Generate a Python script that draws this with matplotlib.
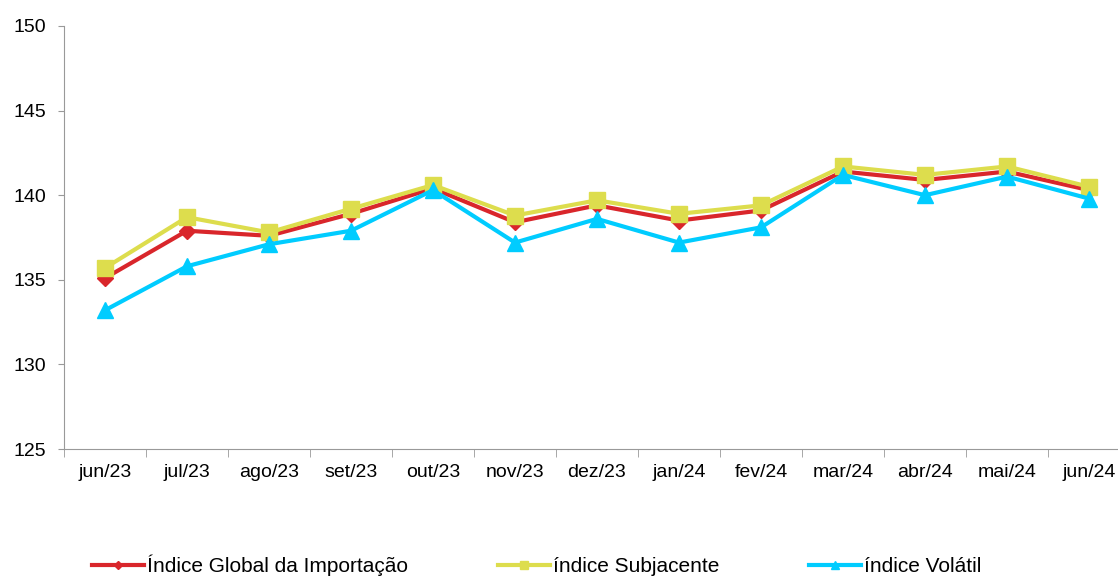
import matplotlib.pyplot as plt
import numpy as np

plt.rcParams['font.family'] = ['Liberation Sans', 'DejaVu Sans']

meses = ['jun/23', 'jul/23', 'ago/23', 'set/23', 'out/23', 'nov/23', 'dez/23',
         'jan/24', 'fev/24', 'mar/24', 'abr/24', 'mai/24', 'jun/24']
global_imp = [135.1, 137.9, 137.6, 138.9, 140.4, 138.4, 139.4, 138.5, 139.1, 141.4, 140.9, 141.4, 140.3]
subjacente = [135.7, 138.7, 137.8, 139.2, 140.6, 138.8, 139.7, 138.9, 139.4, 141.7, 141.2, 141.7, 140.5]
volatil = [133.2, 135.8, 137.1, 137.9, 140.3, 137.2, 138.6, 137.2, 138.1, 141.2, 140.0, 141.1, 139.8]

fig = plt.figure(figsize=(11.18, 5.77), dpi=100)
ax = fig.add_axes([64/1118, 128/577, 1066/1118, 423/577])

x = np.arange(len(meses))
ax.plot(x, global_imp, color='#D9262B', lw=3, marker='D', ms=8,
        label='Índice Global da Importação')
ax.plot(x, subjacente, color='#DDDD4D', lw=3, marker='s', ms=11,
        label='índice Subjacente')
ax.plot(x, volatil, color='#00CCFF', lw=3, marker='^', ms=11,
        label='índice Volátil')

ax.set_ylim(125, 150)
ax.set_yticks(range(125, 151, 5))
ax.set_xlim(-0.5, 12.5)
ax.set_xticks(x)
ax.set_xticklabels(meses)
ax.set_xticks(np.arange(-0.5, 13, 1), minor=True)
ax.tick_params(axis='x', which='major', length=0, pad=11, labelsize=14)
ax.tick_params(axis='x', which='minor', length=6, color='#999999')
ax.tick_params(axis='y', length=4.5, color='#999999', labelsize=14, pad=8.5)

for s in ['top', 'right']:
    ax.spines[s].set_visible(False)
for s in ['left', 'bottom']:
    ax.spines[s].set_color('#999999')

fig.legend(loc='lower left', bbox_to_anchor=(92/1118, 0.001), ncol=3,
           frameon=False, fontsize=15, handlelength=2.5, handletextpad=0.15,
           columnspacing=4.3, markerscale=0.55, borderpad=0, borderaxespad=0)

fig.savefig('out.png', dpi=100)
